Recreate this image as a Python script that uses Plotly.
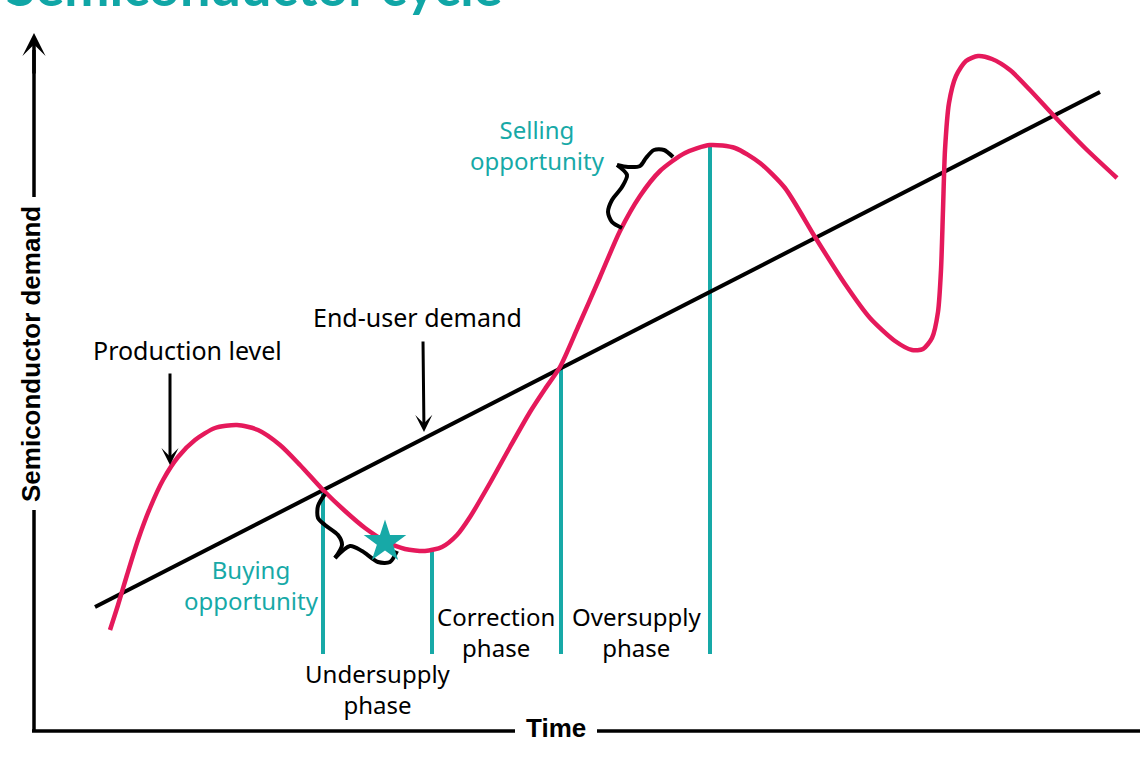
import plotly.graph_objects as go

# ---- data (in pixel-like drawing units) ----
production_x = [110, 118, 127, 138, 150, 163, 178, 195, 215, 237, 258, 280, 300, 323, 345, 365, 385,
                405, 425, 442, 457, 470, 490, 510, 530, 545, 560, 578, 600, 620, 640, 660, 685, 710,
                735, 760, 785, 815, 845, 870, 895, 912, 923, 932, 938, 941, 943, 945, 949, 956, 966,
                978, 992, 1010, 1030, 1055, 1085, 1117]
production_y = [630, 605, 575, 540, 508, 480, 457, 440, 428, 425, 430, 445, 465, 490, 511, 528, 541,
                549, 551, 547, 535, 517, 483, 447, 412, 389, 367, 327, 277, 231, 196, 171, 153, 145,
                148, 163, 188, 237, 284, 318, 341, 350, 349, 338, 312, 270, 210, 150, 103, 76, 61,
                56, 59, 70, 90, 117, 148, 178]

demand_x = [95, 1100]
demand_y = [607, 92]

phase_x = [323, 432, 561, 710]
phase_top = [490, 551, 368, 145]
phase_bottom = [654, 654, 654, 654]

brace1a_x = [325, 318, 318, 325, 338, 342, 335]
brace1a_y = [494, 506, 518, 525, 535, 545, 558]
brace1b_x = [335, 350, 362, 378, 390, 397]
brace1b_y = [558, 546, 551, 562, 562, 551]
brace2a_x = [673, 664, 654, 646, 640, 628, 617]
brace2a_y = [157, 150, 150, 158, 166, 167, 165]
brace2b_x = [617, 627, 622, 612, 608, 612, 622]
brace2b_y = [165, 175, 187, 200, 212, 222, 228]

star_x = [385]
star_y = [542]

TEAL = "#17A9A7"
RED = "#E5195B"
LABEL_FONT = "Noto Sans"
AXIS_FONT = "Liberation Sans"

fig = go.Figure()

def seg(xs, ys, color, width, shape="linear", smoothing=None):
    line = dict(color=color, width=width, shape=shape)
    if smoothing is not None:
        line["smoothing"] = smoothing
    fig.add_trace(go.Scatter(x=xs, y=ys, mode="lines", line=line, hoverinfo="skip"))

# axes (with gaps for labels)
seg([34, 34], [732, 510], "black", 3.5)
seg([34, 34], [197, 50], "black", 3.5)
seg([32, 515], [731, 731], "black", 3.5)
seg([597, 1140], [731, 731], "black", 3.5)

# phase lines
for px, pt, pb in zip(phase_x, phase_top, phase_bottom):
    seg([px, px], [pt, pb], TEAL, 4)

# end-user demand line
seg(demand_x, demand_y, "black", 4)

# production curve
seg(production_x, production_y, RED, 4.5, shape="spline", smoothing=0.7)

# braces
seg(brace1a_x, brace1a_y, "black", 4, shape="spline", smoothing=0.8)
seg(brace1b_x, brace1b_y, "black", 4, shape="spline", smoothing=0.8)
seg(brace2a_x, brace2a_y, "black", 4, shape="spline", smoothing=0.8)
seg(brace2b_x, brace2b_y, "black", 4, shape="spline", smoothing=0.8)

# star
fig.add_trace(go.Scatter(x=star_x, y=star_y, mode="markers",
                         marker=dict(symbol="star", size=32, color=TEAL, line=dict(width=0)), hoverinfo="skip"))

annotations = []

# axis arrowhead
annotations.append(dict(x=34, y=33, ax=34, ay=75, xref="x", yref="y", axref="x", ayref="y",
                        showarrow=True, arrowhead=3, arrowsize=1.1, arrowwidth=3.5, arrowcolor="black", text=""))
# pointer arrows
annotations.append(dict(x=170, y=465, ax=170, ay=372, xref="x", yref="y", axref="x", ayref="y",
                        showarrow=True, arrowhead=3, arrowsize=0.95, arrowwidth=3, arrowcolor="black", text=""))
annotations.append(dict(x=424, y=432, ax=423, ay=340, xref="x", yref="y", axref="x", ayref="y",
                        showarrow=True, arrowhead=3, arrowsize=0.95, arrowwidth=3, arrowcolor="black", text=""))

def label(x, y, text, color="black", size=24, family=LABEL_FONT, **kw):
    d = dict(x=x, y=y, xref="x", yref="y", text=text, showarrow=False,
             font=dict(family=family, size=size, color=color), align="center")
    d.update(kw)
    annotations.append(d)

label(187, 350, "Production level", size=25)
label(417, 317, "End-user demand", size=25)
label(537, 145, "Selling<br>opportunity", color=TEAL)
label(251, 585, "Buying<br>opportunity", color=TEAL)
label(378, 689, "Undersupply<br>phase")
label(496, 632, "Correction<br>phase")
label(636, 632, "Oversupply<br>phase")

# axis titles
label(556, 728, "<b>Time</b>", size=26, family=AXIS_FONT)
label(31, 354, "<b>Semiconductor demand</b>", size=26, family=AXIS_FONT, textangle=-90)

# title (cut off at top, as in reference)
annotations.append(dict(x=4, y=20, xref="x", yref="y", text="<b>Semiconductor cycle</b>", showarrow=False,
                        font=dict(family="Lato", size=54, color="#10A6A6", weight=900),
                        xanchor="left", yanchor="bottom"))

fig.update_layout(
    width=1140, height=760,
    margin=dict(l=0, r=0, t=0, b=0),
    paper_bgcolor="white", plot_bgcolor="white",
    showlegend=False,
    xaxis=dict(range=[0, 1140], visible=False, fixedrange=True),
    yaxis=dict(range=[760, 0], visible=False, fixedrange=True),
    annotations=annotations,
)

fig.write_html("out.html", config={"displayModeBar": False},
               post_script="document.body.style.margin='0';")
